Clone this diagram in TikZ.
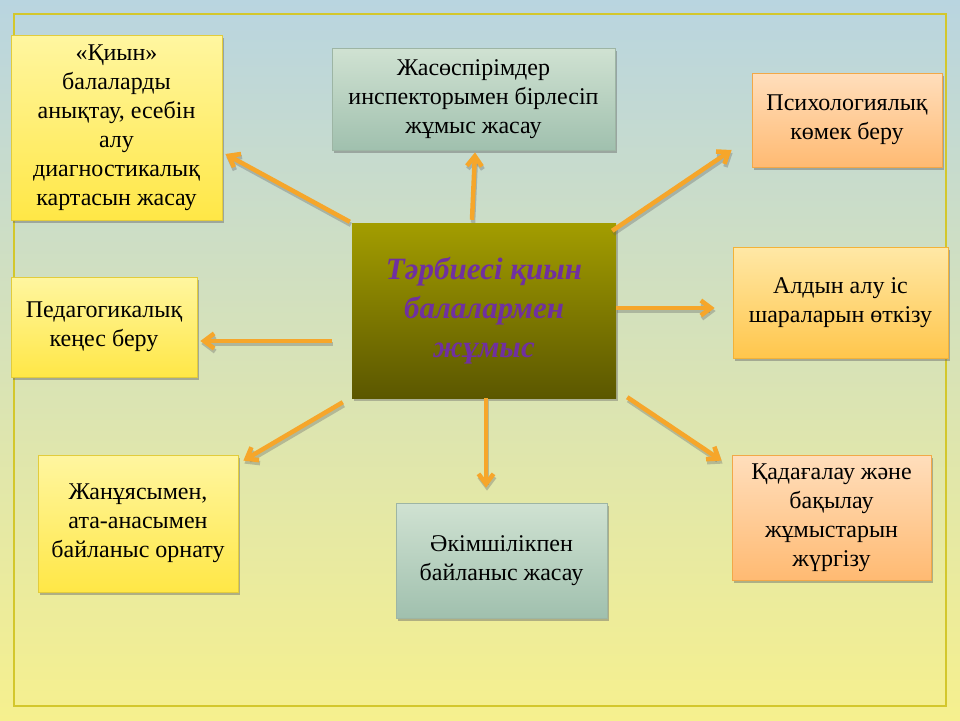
\documentclass[tikz,border=0pt]{standalone}
\usepackage{fontspec}
\setmainfont{Liberation Serif}
\usetikzlibrary{arrows.meta,shadows}
\definecolor{bgtop}{HTML}{B9D5E0}
\definecolor{bgmid}{HTML}{DDE4B8}
\definecolor{bgbot}{HTML}{F6F08E}
\definecolor{framec}{HTML}{D3C72C}
\definecolor{ylwtop}{HTML}{FFF6A0}
\definecolor{ylwbot}{HTML}{FFE746}
\definecolor{ylwdraw}{HTML}{E2CC3C}
\definecolor{grntop}{HTML}{D0E2D2}
\definecolor{grnbot}{HTML}{A0C0AE}
\definecolor{grndraw}{HTML}{9DB5A4}
\definecolor{orgtop}{HTML}{FFDEBC}
\definecolor{orgbot}{HTML}{FFBA72}
\definecolor{orgdraw}{HTML}{F2A848}
\definecolor{amtop}{HTML}{FFE8A6}
\definecolor{ambot}{HTML}{FFC64C}
\definecolor{amdraw}{HTML}{F3B238}
\definecolor{ctrtop}{HTML}{A39D00}
\definecolor{ctrbot}{HTML}{5B5700}
\definecolor{ctrtext}{HTML}{7030A0}
\definecolor{arrowc}{HTML}{F6A62A}
\tikzset{
  boxbase/.style={rectangle, align=center, inner sep=4pt, line width=0.8pt,
    font=\fontsize{24}{29}\selectfont,
    drop shadow={shadow xshift=1.5pt, shadow yshift=-3pt, opacity=0.45, fill=black!60}},
  ylwbox/.style={boxbase, top color=ylwtop, bottom color=ylwbot, draw=ylwdraw},
  grnbox/.style={boxbase, top color=grntop, bottom color=grnbot, draw=grndraw},
  orgbox/.style={boxbase, top color=orgtop, bottom color=orgbot, draw=orgdraw},
  ambox/.style={boxbase, top color=amtop, bottom color=ambot, draw=amdraw},
  ctrbox/.style={rectangle, align=center, top color=ctrtop, bottom color=ctrbot,
    draw=none, font=\fontsize{31}{39}\selectfont\bfseries\itshape, text=ctrtext,
    drop shadow={shadow xshift=1.5pt, shadow yshift=-2.5pt, opacity=0.4, fill=black!60}},
  arr/.style={draw=arrowc, line width=4.5pt,
    -{Straight Barb[length=10pt,width=15pt]}},
  arrshadow/.style={draw=black!60, opacity=0.35, line width=4.5pt,
    -{Straight Barb[length=10pt,width=15pt]}, transform canvas={shift={(1pt,-3pt)}}}
}
\begin{document}
\begin{tikzpicture}[x=1pt,y=-1pt]
\useasboundingbox (0,0) rectangle (960,720);
\shade[top color=bgtop, middle color=bgmid, bottom color=bgbot] (0,0) rectangle (960,720);
\draw[framec, line width=2.5pt] (14,14) rectangle (946,706);

\node[ctrbox, minimum width=264pt, minimum height=175pt] (C) at (484,310.5)
  {Тәрбиесі қиын\\балалармен\\жұмыс};

\node[ylwbox, minimum width=211pt, minimum height=185pt] (n1) at (116.5,127.5)
  {«Қиын»\\балаларды\\анықтау, есебін\\алу\\диагностикалық\\картасын жасау};
\node[grnbox, minimum width=283pt, minimum height=102pt] (n2) at (473.5,99)
  {Жасөспірімдер\\инспекторымен бірлесіп\\жұмыс жасау};
\node[orgbox, minimum width=190pt, minimum height=94pt] (n3) at (847,120)
  {Психологиялық\\көмек беру};
\node[ambox, minimum width=215pt, minimum height=111pt] (n4) at (840.5,302.5)
  {Алдын алу іс\\шараларын өткізу};
\node[ylwbox, minimum width=186pt, minimum height=100pt] (n5) at (104,327)
  {Педагогикалық\\кеңес беру};
\node[ylwbox, minimum width=200pt, minimum height=137pt] (n6) at (138,523.5)
  {Жанұясымен,\\ата-анасымен\\байланыс орнату};
\node[grnbox, minimum width=211pt, minimum height=115pt] (n7) at (501.5,560.5)
  {Әкімшілікпен\\байланыс жасау};
\node[orgbox, minimum width=199pt, minimum height=125pt] (n8) at (831.5,517.5)
  {Қадағалау және\\бақылау\\жұмыстарын\\жүргізу};

\foreach \sty in {arrshadow,arr}{
  \draw[\sty] ([shift={(-2,-1)}]C.north west) -- ([shift={(3,26.5)}]n1.east);
  \draw[\sty] ([shift={(-12,-3)}]C.north) -- ([shift={(1.5,2)}]n2.south);
  \draw[\sty] ([shift={(-4,8)}]C.north east) -- ([shift={(-20,30)}]n3.west);
  \draw[\sty] ([shift={(0,-2.5)}]C.east) -- ([shift={(-18,5.5)}]n4.west);
  \draw[\sty] ([shift={(-20,30.5)}]C.west) -- ([shift={(3,14)}]n5.east);
  \draw[\sty] ([shift={(-9,4)}]C.south west) -- ([shift={(5,6)}]n6.north east);
  \draw[\sty] ([shift={(2,0)}]C.south) -- ([shift={(-15.5,-15)}]n7.north);
  \draw[\sty] ([shift={(11,-1)}]C.south east) -- ([shift={(-10,6)}]n8.north west);
}
\end{tikzpicture}
\end{document}
